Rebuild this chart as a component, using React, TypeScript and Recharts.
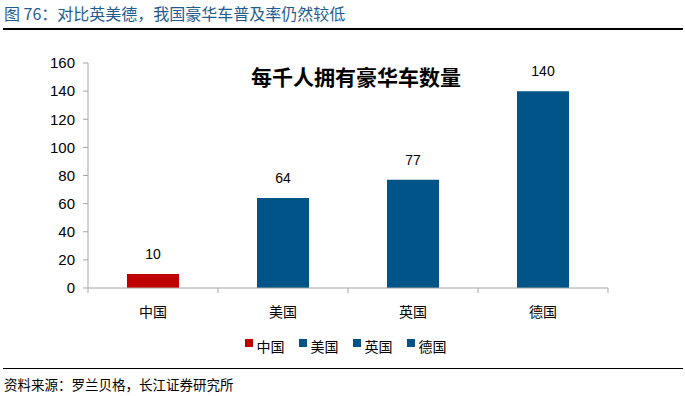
import React from 'react';
import { BarChart, Bar, XAxis, YAxis, Cell, LabelList, Legend } from 'recharts';

const categories = ['中国', '美国', '英国', '德国'];
const values = [10, 64, 77, 140];
const colors = ['#C00000', '#005487', '#005487', '#005487'];
const yTicks = [0, 20, 40, 60, 80, 100, 120, 140, 160];

const data = categories.map((name, i) => ({ name, value: values[i] }));

const CJK = '"Noto Sans CJK SC", "Liberation Sans", sans-serif';
const NUM = '"Liberation Sans", Arial, sans-serif';

const XTick = (props: any) => {
  const { x, y, payload, index } = props;
  const off = payload.offset || 0;
  return (
    <g>
      <line x1={x - off} x2={x - off} y1={y - 8} y2={y - 3} stroke="#A6A6A6" />
      {index === categories.length - 1 && (
        <line x1={x + off} x2={x + off} y1={y - 8} y2={y - 3} stroke="#A6A6A6" />
      )}
      <text x={x} y={y + 21} textAnchor="middle" fontSize={14} fontFamily={CJK} fill="#000">
        {payload.value}
      </text>
    </g>
  );
};

const LegendContent = () => (
  <div style={{ display: 'flex', justifyContent: 'center', fontFamily: CJK, fontSize: 14, color: '#000', paddingLeft: 6 }}>
    {categories.map((c, i) => (
      <div key={c} style={{ display: 'flex', alignItems: 'center', marginRight: i === categories.length - 1 ? 0 : 14 }}>
        <span style={{ width: 8, height: 8, background: colors[i], display: 'inline-block', marginRight: 4, marginTop: -6 }} />
        <span>{c}</span>
      </div>
    ))}
  </div>
);

export default function App() {
  return (
    <div style={{ position: 'fixed', left: 0, top: 0, width: 685, height: 396, background: '#fff' }}>
      <div style={{ position: 'absolute', left: 4, top: 1, fontFamily: CJK, fontSize: 16, color: '#1F5C91', fontWeight: 400, whiteSpace: 'nowrap' }}>
        图 76：对比英美德，我国豪华车普及率仍然较低
      </div>
      <div style={{ position: 'absolute', left: 3, top: 28, width: 680, height: 2, background: '#000' }} />
      <BarChart width={685} height={396} data={data} margin={{ top: 63, right: 77, left: 0, bottom: 78 }}>
        <XAxis
          dataKey="name"
          height={30}
          axisLine={{ stroke: '#A6A6A6' }}
          tickLine={false}
          interval={0}
          tick={<XTick />}
        />
        <YAxis
          width={88}
          domain={[0, 160]}
          ticks={yTicks}
          interval={0}
          axisLine={{ stroke: '#A6A6A6' }}
          tickLine={{ stroke: '#A6A6A6' }}
          tickSize={5}
          tickMargin={8}
          tick={{ fontSize: 15, fontFamily: NUM, fill: '#000' }}
        />
        <Legend
          layout="horizontal"
          verticalAlign="middle"
          align="center"
          wrapperStyle={{ top: 336, left: 0, width: 685 }}
          content={<LegendContent />}
        />
        <Bar dataKey="value" barSize={52} isAnimationActive={false}>
          {data.map((d, i) => (
            <Cell key={d.name} fill={colors[i]} />
          ))}
          <LabelList dataKey="value" position="top" offset={15} style={{ fontSize: 14, fontFamily: NUM, fill: '#000' }} />
        </Bar>
        <text x={356} y={85} textAnchor="middle" fontSize={21} fontWeight="bold" fontFamily={CJK} fill="#000">
          每千人拥有豪华车数量
        </text>
      </BarChart>
      <div style={{ position: 'absolute', left: 3, top: 368, width: 680, height: 1, background: '#000' }} />
      <div style={{ position: 'absolute', left: 4, top: 374, fontFamily: CJK, fontSize: 13.5, color: '#000', whiteSpace: 'nowrap' }}>
        资料来源：罗兰贝格，长江证券研究所
      </div>
    </div>
  );
}
